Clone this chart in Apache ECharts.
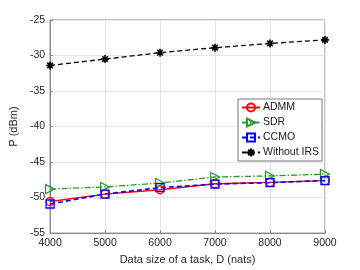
<!DOCTYPE html>
<html><head><meta charset="utf-8">
<script src="https://cdn.jsdelivr.net/npm/echarts@6/dist/echarts.min.js"></script>
<style>html,body{margin:0;padding:0;background:#fff}#c{width:360px;height:270px}</style>
</head><body><div id="c"></div>
<script>
const xValues = [4000, 5000, 6000, 7000, 8000, 9000];
const admm = [-50.55, -49.5, -48.9, -48.05, -47.85, -47.6];
const sdr = [-48.8, -48.5, -47.95, -47.1, -46.95, -46.7];
const ccmo = [-50.9, -49.5, -48.6, -48.1, -47.9, -47.6];
const withoutIrs = [-31.4, -30.5, -29.6, -28.9, -28.3, -27.8];
const yTicks = [-55, -50, -45, -40, -35, -30, -25];

const pair = a => xValues.map((x, i) => [x, a[i]]);
const font = 'Liberation Sans, Arial, sans-serif';
const asterisk = 'path://M0,-10L0,10M-10,0L10,0M-7,-7L7,7M-7,7L7,-7';

const chart = echarts.init(document.getElementById('c'), null, {renderer: 'canvas'});
chart.setOption({
  animation: false,
  backgroundColor: '#fff',
  grid: {left: 47, right: 35, top: 20, bottom: 32, show: true, borderColor: '#888', borderWidth: 1},
  xAxis: {
    type: 'value', min: 4000, max: 9000, interval: 1000,
    name: 'Data size of a task, D (nats)', nameLocation: 'middle', nameGap: 19,
    nameTextStyle: {fontFamily: font, fontSize: 11, color: '#262626'},
    axisLine: {show: true, lineStyle: {color: '#888'}},
    axisTick: {inside: true, length: 3, lineStyle: {color: '#888'}},
    axisLabel: {fontFamily: font, fontSize: 10.5, color: '#262626', margin: 5, formatter: v => String(v)},
    splitLine: {show: true, lineStyle: {color: '#e6e6e6'}}
  },
  yAxis: {
    type: 'value', min: -55, max: -25, interval: 5,
    name: 'P (dBm)', nameLocation: 'middle', nameGap: 23,
    nameTextStyle: {fontFamily: font, fontSize: 11, color: '#262626'},
    axisLine: {show: true, lineStyle: {color: '#888'}},
    axisTick: {inside: true, length: 3, lineStyle: {color: '#888'}},
    axisLabel: {fontFamily: font, fontSize: 10.5, color: '#262626', margin: 5,
      formatter: v => yTicks.includes(v) ? String(v) : ''},
    splitLine: {show: true, lineStyle: {color: '#e6e6e6'}}
  },
  legend: {
    orient: 'vertical', left: 238, top: 99,
    backgroundColor: '#fff', borderColor: '#777', borderWidth: 1, borderRadius: 0,
    padding: [3, 3, 3, 3], itemGap: 4, itemWidth: 18, itemHeight: 10,
    textStyle: {fontFamily: font, fontSize: 10.5, color: '#1a1a1a', padding: [0, 0, 0, -2]},
    data: ['ADMM', 'SDR', 'CCMO', 'Without IRS']
  },
  series: [
    {name: 'ADMM', type: 'line', data: pair(admm), color: '#ff0000',
     lineStyle: {width: 1.3, color: '#ff0000'}, symbol: 'circle', symbolSize: 8,
     itemStyle: {color: 'rgba(255,255,255,0)', borderColor: '#ff0000', borderWidth: 1.3}},
    {name: 'SDR', type: 'line', data: pair(sdr), color: '#2e9a2e',
     lineStyle: {width: 1.3, color: '#2e9a2e', type: [6, 2, 1.5, 2]}, symbol: 'triangle', symbolRotate: -90, symbolSize: 9,
     itemStyle: {color: 'rgba(255,255,255,0)', borderColor: '#2e9a2e', borderWidth: 1.3}},
    {name: 'CCMO', type: 'line', data: pair(ccmo), color: '#0000ff',
     lineStyle: {width: 1.6, color: '#0000ff', type: [5, 3]}, symbol: 'rect', symbolSize: 8,
     itemStyle: {color: 'rgba(255,255,255,0)', borderColor: '#0000ff', borderWidth: 1.3}},
    {name: 'Without IRS', type: 'line', data: pair(withoutIrs), color: '#000',
     lineStyle: {width: 1.3, color: '#000', type: [5, 3]}, symbol: asterisk, symbolSize: 8,
     itemStyle: {color: '#000', borderColor: '#000', borderWidth: 1.6}}
  ]
});
</script></body></html>
